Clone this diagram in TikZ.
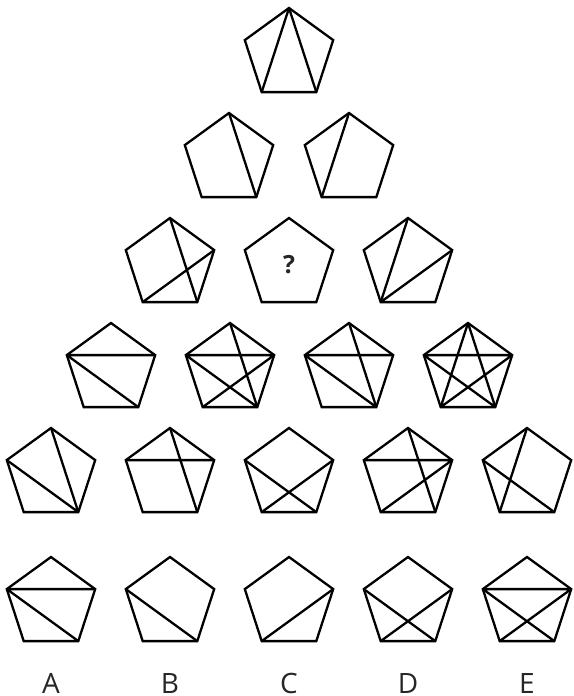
\documentclass[tikz,border=0pt]{standalone}
\usepackage{fontspec}
\setmainfont{Open Sans}
\begin{document}
\begin{tikzpicture}[x=1pt,y=-1pt,
  edge/.style={draw=black, line width=2.3pt, line join=miter, line cap=butt},
  lettertext/.style={font=\fontsize{28}{28}\selectfont, anchor=base, text=black!85, inner sep=0pt},
  qmarktext/.style={font=\bfseries\fontsize{25}{25}\selectfont, text=black!85, inner sep=0pt}]
\useasboundingbox (0,0) rectangle (573,696);
\newcommand\mkpent[3]{%
  \begin{scope}[shift={(#2,#3)}]
    \coordinate (#1T)  at (0,-46.5);
    \coordinate (#1R)  at (44.2,-14.4);
    \coordinate (#1BR) at (27.3,37.6);
    \coordinate (#1BL) at (-27.3,37.6);
    \coordinate (#1L)  at (-44.2,-14.4);
  \end{scope}
  \draw[edge] (#1T) -- (#1R) -- (#1BR) -- (#1BL) -- (#1L) -- cycle;}
% row 1
\mkpent{a}{289}{54.5}
\draw[edge] (aT) -- (aBL) (aT) -- (aBR);
% row 2
\mkpent{b}{229}{159.5}
\draw[edge] (bT) -- (bBR);
\mkpent{c}{349}{159.5}
\draw[edge] (cT) -- (cBL);
% row 3
\mkpent{d}{170}{264.5}
\draw[edge] (dT) -- (dBR) (dR) -- (dBL);
\mkpent{e}{289}{264.5}
\node[qmarktext] (q) at (289,265) {?};
\mkpent{f}{408}{264.5}
\draw[edge] (fT) -- (fBL) (fR) -- (fBL);
% row 4
\mkpent{g}{111}{369.5}
\draw[edge] (gL) -- (gR) (gL) -- (gBR);
\mkpent{h}{230}{369.5}
\draw[edge] (hL) -- (hR) (hL) -- (hBR) (hR) -- (hBL) (hT) -- (hBR);
\mkpent{i}{349}{369.5}
\draw[edge] (iL) -- (iR) (iL) -- (iBR) (iT) -- (iBR);
\mkpent{j}{468}{369.5}
\draw[edge] (jL) -- (jR) (jL) -- (jBR) (jR) -- (jBL) (jT) -- (jBL) (jT) -- (jBR);
% row 5
\mkpent{k}{51}{474.5}
\draw[edge] (kT) -- (kBR) (kL) -- (kBR);
\mkpent{l}{170}{474.5}
\draw[edge] (lL) -- (lR) (lT) -- (lBR);
\mkpent{m}{289}{474.5}
\draw[edge] (mL) -- (mBR) (mR) -- (mBL);
\mkpent{n}{408}{474.5}
\draw[edge] (nL) -- (nR) (nT) -- (nBR) (nR) -- (nBL);
\mkpent{o}{527}{474.5}
\draw[edge] (oT) -- (oBL) (oL) -- (oBR);
% row 6 (answers)
\mkpent{pA}{51}{603.5}
\draw[edge] (pAL) -- (pAR) (pAL) -- (pABR);
\mkpent{pB}{170}{603.5}
\draw[edge] (pBL) -- (pBBR);
\mkpent{pC}{289}{603.5}
\draw[edge] (pCR) -- (pCBL);
\mkpent{pD}{408}{603.5}
\draw[edge] (pDL) -- (pDBR) (pDR) -- (pDBL);
\mkpent{pE}{527}{603.5}
\draw[edge] (pEL) -- (pER) (pEL) -- (pEBR) (pER) -- (pEBL);
% labels
\node[lettertext] (lA) at (51,693) {A};
\node[lettertext] (lB) at (170,693) {B};
\node[lettertext] (lC) at (289,693) {C};
\node[lettertext] (lD) at (408,693) {D};
\node[lettertext] (lE) at (527,693) {E};
\end{tikzpicture}
\end{document}
